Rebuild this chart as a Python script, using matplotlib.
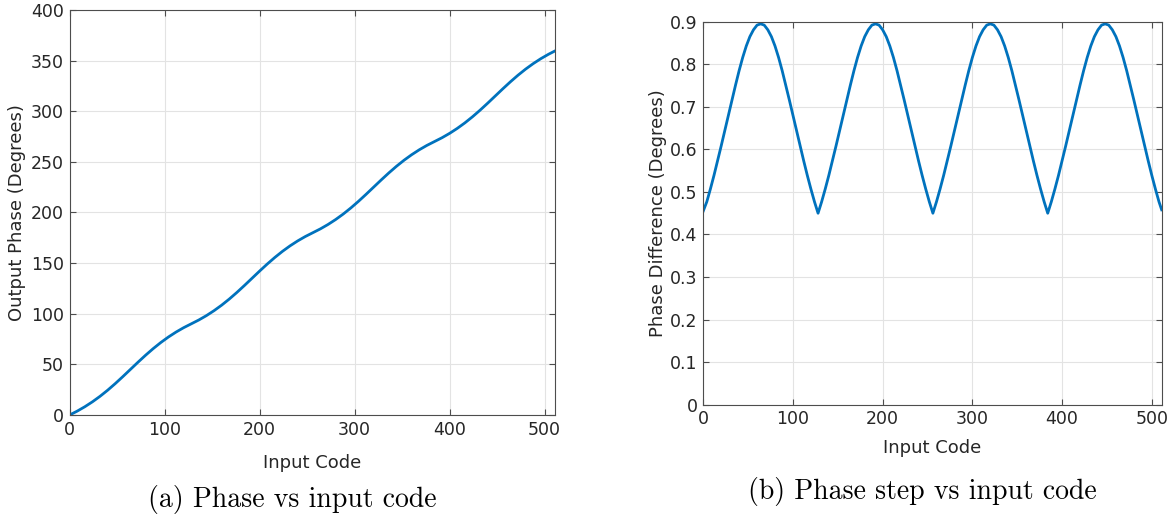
import matplotlib
matplotlib.use("Agg")
import matplotlib.pyplot as plt
from matplotlib.ticker import FuncFormatter

# (a) Input codes sampled every 8 codes (last code 511)
codes_a = list(range(0, 512, 8)) + [511]

# (a) Output phase in degrees
output_phase = [0.0, 3.81, 8.13, 13.0, 18.43, 24.44, 30.96, 37.87, 45.0, 52.13, 59.04, 65.56, 71.57, 77.0, 81.87, 86.19,
                90.0, 93.81, 98.13, 103.0, 108.43, 114.44, 120.96, 127.87, 135.0, 142.13, 149.04, 155.56, 161.57, 167.0, 171.87, 176.19,
                180.0, 183.81, 188.13, 193.0, 198.43, 204.44, 210.96, 217.87, 225.0, 232.13, 239.04, 245.56, 251.57, 257.0, 261.87, 266.19,
                270.0, 273.81, 278.13, 283.0, 288.43, 294.44, 300.96, 307.87, 315.0, 322.13, 329.04, 335.56, 341.57, 347.0, 351.87, 356.19,
                359.55]

# (b) Input codes sampled every 4 codes (last code 511)
codes_b = list(range(0, 512, 4)) + [511]

# (b) Phase difference in degrees
phase_diff = [0.455, 0.477, 0.507, 0.539, 0.573, 0.608, 0.644, 0.680, 0.716, 0.751, 0.785, 0.816, 0.843, 0.865, 0.881, 0.892,
              0.895, 0.892, 0.881, 0.865, 0.843, 0.816, 0.785, 0.751, 0.716, 0.680, 0.644, 0.608, 0.573, 0.539, 0.507, 0.477,
              0.450, 0.477, 0.507, 0.539, 0.573, 0.608, 0.644, 0.680, 0.716, 0.751, 0.785, 0.816, 0.843, 0.865, 0.881, 0.892,
              0.895, 0.892, 0.881, 0.865, 0.843, 0.816, 0.785, 0.751, 0.716, 0.680, 0.644, 0.608, 0.573, 0.539, 0.507, 0.477,
              0.450, 0.477, 0.507, 0.539, 0.573, 0.608, 0.644, 0.680, 0.716, 0.751, 0.785, 0.816, 0.843, 0.865, 0.881, 0.892,
              0.895, 0.892, 0.881, 0.865, 0.843, 0.816, 0.785, 0.751, 0.716, 0.680, 0.644, 0.608, 0.573, 0.539, 0.507, 0.477,
              0.450, 0.477, 0.507, 0.539, 0.573, 0.608, 0.644, 0.680, 0.716, 0.751, 0.785, 0.816, 0.843, 0.865, 0.881, 0.892,
              0.895, 0.892, 0.881, 0.865, 0.843, 0.816, 0.785, 0.751, 0.716, 0.680, 0.644, 0.608, 0.573, 0.539, 0.507, 0.477,
              0.458]

xticks = [0, 100, 200, 300, 400, 500]
yticks_a = [0, 50, 100, 150, 200, 250, 300, 350, 400]
yticks_b = [0, 0.1, 0.2, 0.3, 0.4, 0.5, 0.6, 0.7, 0.8, 0.9]

line_color = "#0072BD"
axis_color = "#4d4d4d"
text_color = "#262626"
fs_tick = 12.5
fs_label = 13

plt.rcParams["font.family"] = ["DejaVu Sans"]

fig = plt.figure(figsize=(11.74, 5.21), dpi=100)
ax1 = fig.add_axes([0.0593, 0.2035, 0.4135, 0.7774])
ax2 = fig.add_axes([0.599, 0.2232, 0.3905, 0.7351])


def style(ax):
    ax.grid(True, color="#e3e3e3", linewidth=0.8)
    ax.set_axisbelow(True)
    for s in ax.spines.values():
        s.set_color(axis_color)
        s.set_linewidth(0.8)
    ax.tick_params(direction="in", top=True, right=True, length=4, width=0.8,
                   colors=axis_color, labelcolor=text_color, labelsize=fs_tick, pad=4)


ax1.plot(codes_a, output_phase, color=line_color, linewidth=2)
ax1.set_xlim(0, 511)
ax1.set_ylim(0, 400)
ax1.set_xticks(xticks)
ax1.set_yticks(yticks_a)
style(ax1)
ax1.set_xlabel("Input Code", fontsize=fs_label, color=text_color, labelpad=11)
ax1.set_ylabel("Output Phase (Degrees)", fontsize=fs_label, color=text_color, labelpad=4)

ax2.plot(codes_b, phase_diff, color=line_color, linewidth=2)
ax2.set_xlim(0, 511)
ax2.set_ylim(0, 0.9)
ax2.set_xticks(xticks)
ax2.set_yticks(yticks_b)
ax2.yaxis.set_major_formatter(FuncFormatter(lambda v, p: "0" if abs(v) < 1e-9 else f"{v:.1f}"))
style(ax2)
ax2.set_xlabel("Input Code", fontsize=fs_label, color=text_color, labelpad=8)
ax2.set_ylabel("Phase Difference (Degrees)", fontsize=fs_label, color=text_color, labelpad=2)

fig.text(292 / 1174, 1 - 499 / 521, "(a) Phase vs input code", family=["cmr10", "DejaVu Serif"],
         fontsize=20, ha="center", va="center", color="black")
fig.text(922 / 1174, 1 - 491 / 521, "(b) Phase step vs input code", family=["cmr10", "DejaVu Serif"],
         fontsize=20, ha="center", va="center", color="black")

fig.savefig("out.png", dpi=100)
